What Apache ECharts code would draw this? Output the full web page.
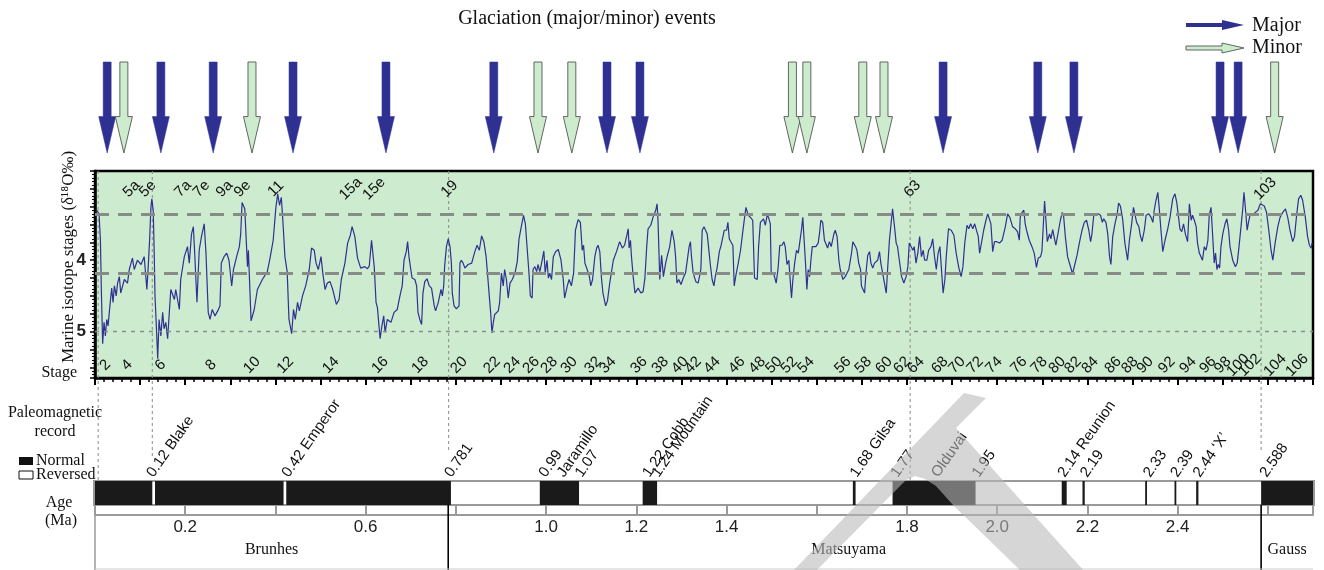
<!DOCTYPE html>
<html><head><meta charset="utf-8">
<script src="https://cdn.jsdelivr.net/npm/echarts/dist/echarts.min.js"></script>
<style>html,body{margin:0;padding:0;background:#fff}#c{width:1324px;height:570px}</style>
</head><body><div id="c"></div>
<script>
// ---------------- DATA ----------------
const isotope = [
[0.004,3.30],[0.009,3.35],[0.012,3.72],[0.013,4.04],[0.014,4.41],[0.017,5.17],[0.020,4.87],[0.023,5.06],[0.026,4.83],[0.029,4.92],[0.033,4.64],[0.037,4.39],[0.040,4.59],[0.043,4.36],[0.047,4.50],[0.050,4.32],[0.054,4.23],[0.057,4.46],[0.065,4.27],[0.072,4.32],[0.076,4.13],[0.083,3.97],[0.087,4.13],[0.094,4.00],[0.102,4.06],[0.109,3.95],[0.115,4.41],[0.118,4.09],[0.121,3.72],[0.124,3.26],[0.126,3.14],[0.129,3.30],[0.131,3.81],[0.133,4.50],[0.136,4.92],[0.139,5.38],[0.142,4.83],[0.146,5.06],[0.150,4.73],[0.153,4.96],[0.157,4.87],[0.161,5.10],[0.168,4.41],[0.176,4.55],[0.179,4.41],[0.187,4.69],[0.190,4.27],[0.198,3.95],[0.205,3.81],[0.209,4.04],[0.214,3.63],[0.218,3.53],[0.221,3.90],[0.226,4.59],[0.231,3.86],[0.236,3.67],[0.242,3.49],[0.246,3.90],[0.251,4.73],[0.255,4.83],[0.260,4.69],[0.266,4.78],[0.272,4.71],[0.277,4.64],[0.280,4.04],[0.286,3.95],[0.292,3.90],[0.297,4.00],[0.303,4.36],[0.307,4.13],[0.314,3.95],[0.320,3.81],[0.323,3.63],[0.326,3.19],[0.332,3.28],[0.336,3.26],[0.338,4.09],[0.340,3.86],[0.346,4.85],[0.353,4.69],[0.360,4.41],[0.371,4.27],[0.382,4.16],[0.388,3.97],[0.395,3.72],[0.401,3.26],[0.405,3.07],[0.409,3.23],[0.413,3.12],[0.416,3.40],[0.421,3.95],[0.426,4.16],[0.430,4.83],[0.436,5.03],[0.440,4.69],[0.444,4.83],[0.449,4.59],[0.453,4.71],[0.460,4.50],[0.467,4.36],[0.475,4.13],[0.480,3.83],[0.486,3.86],[0.490,4.04],[0.495,4.13],[0.501,3.95],[0.505,4.18],[0.510,4.41],[0.515,4.32],[0.521,4.30],[0.527,4.41],[0.535,4.62],[0.541,4.55],[0.546,4.27],[0.554,4.04],[0.560,3.76],[0.566,3.65],[0.570,3.53],[0.576,3.67],[0.582,3.97],[0.589,4.11],[0.598,4.09],[0.604,4.12],[0.608,4.08],[0.613,3.72],[0.617,3.70],[0.619,4.09],[0.623,4.59],[0.626,4.66],[0.632,5.10],[0.636,4.92],[0.640,4.78],[0.643,5.01],[0.648,4.83],[0.656,4.87],[0.663,4.73],[0.670,4.69],[0.676,4.50],
[0.681,4.36],[0.685,4.00],[0.690,3.88],[0.693,3.74],[0.696,3.95],[0.700,4.13],[0.703,4.25],[0.709,4.27],[0.713,4.36],[0.716,4.73],[0.720,4.83],[0.724,4.90],[0.727,4.46],[0.731,4.30],[0.736,4.26],[0.741,4.36],[0.746,4.39],[0.752,4.64],[0.755,4.71],[0.761,4.59],[0.767,4.41],[0.770,4.50],[0.773,4.36],[0.775,4.09],[0.779,3.81],[0.783,3.70],[0.787,3.81],[0.790,4.04],[0.792,4.46],[0.796,4.64],[0.801,4.68],[0.807,4.64],[0.809,4.04],[0.812,4.00],[0.816,4.04],[0.820,4.11],[0.827,4.06],[0.835,4.04],[0.842,3.88],[0.847,3.79],[0.852,3.86],[0.857,3.66],[0.862,3.74],[0.867,3.95],[0.870,4.18],[0.874,4.50],[0.877,4.73],[0.880,5.02],[0.883,4.87],[0.886,4.76],[0.894,4.71],[0.897,4.59],[0.901,4.18],[0.905,4.36],[0.908,4.13],[0.912,4.27],[0.916,4.53],[0.920,4.32],[0.925,4.27],[0.931,4.18],[0.936,4.02],[0.940,3.70],[0.945,3.53],[0.950,3.37],[0.954,3.49],[0.958,3.51],[0.962,4.18],[0.965,4.50],[0.969,4.53],[0.971,4.13],[0.975,4.09],[0.979,4.16],[0.982,4.06],[0.986,4.16],[0.990,4.04],[0.995,3.87],[0.998,4.18],[1.002,4.00],[1.005,4.25],[1.008,4.18],[1.012,4.27],[1.016,3.95],[1.021,3.88],[1.027,3.85],[1.033,4.00],[1.038,4.27],[1.041,4.53],[1.047,4.36],[1.051,4.27],[1.056,4.36],[1.061,4.18],[1.065,3.58],[1.071,3.43],[1.076,3.47],[1.080,3.86],[1.083,3.79],[1.086,4.04],[1.091,4.13],[1.096,4.23],[1.099,4.36],[1.103,4.27],[1.108,3.95],[1.112,3.83],[1.115,3.79],[1.119,3.88],[1.123,4.27],[1.126,4.46],[1.132,4.64],[1.136,4.57],[1.141,4.32],[1.149,4.00],[1.156,3.88],[1.163,3.74],[1.169,3.83],[1.174,3.79],[1.179,3.65],[1.182,3.56],[1.184,3.83],[1.187,3.72],[1.189,3.93],[1.193,4.23],[1.197,4.46],[1.200,4.44],[1.204,4.39],[1.210,4.46],[1.215,4.44],[1.219,4.25],[1.223,3.81],[1.226,3.56],[1.232,3.51],[1.237,3.40],[1.243,3.30],[1.246,3.21],[1.248,3.44],[1.252,4.27],[1.256,3.93],[1.260,4.23],[1.265,4.04],[1.269,3.93],[1.274,3.81],[1.279,3.58],[1.284,3.74],[1.287,3.95],[1.290,4.32],[1.294,4.27],[1.299,4.34],[1.304,4.25],[1.309,4.18],[1.313,4.00],[1.317,3.81],[1.320,3.74],[1.322,3.93],[1.326,4.18],[1.332,4.30],[1.337,4.32],[1.343,4.13],[1.346,3.58],[1.350,3.53],
[1.352,3.56],[1.357,3.63],[1.360,3.81],[1.364,4.06],[1.368,4.27],[1.372,4.36],[1.375,4.23],[1.379,4.11],[1.384,3.88],[1.388,3.79],[1.392,3.67],[1.395,3.58],[1.400,3.58],[1.403,3.47],[1.406,3.70],[1.411,3.76],[1.414,3.79],[1.417,4.36],[1.421,4.20],[1.426,4.04],[1.431,3.86],[1.436,3.60],[1.440,3.40],[1.443,3.26],[1.448,3.37],[1.453,3.40],[1.458,3.44],[1.462,4.25],[1.468,4.27],[1.471,3.81],[1.475,3.47],[1.479,3.49],[1.482,3.42],[1.486,3.51],[1.490,3.37],[1.493,3.40],[1.497,3.49],[1.499,4.18],[1.505,4.20],[1.510,4.32],[1.514,4.13],[1.518,3.79],[1.523,3.79],[1.527,3.74],[1.530,3.81],[1.534,4.06],[1.538,4.00],[1.542,4.36],[1.544,4.53],[1.547,4.27],[1.551,4.04],[1.555,3.86],[1.559,3.90],[1.562,3.76],[1.566,3.58],[1.569,3.40],[1.572,3.72],[1.575,4.04],[1.578,4.41],[1.581,4.13],[1.584,4.23],[1.587,4.00],[1.590,3.81],[1.593,3.79],[1.598,3.81],[1.603,3.76],[1.606,3.63],[1.609,3.44],[1.613,3.47],[1.617,3.72],[1.620,3.70],[1.624,3.83],[1.628,3.74],[1.632,3.81],[1.638,3.63],[1.641,3.58],[1.645,3.67],[1.649,4.00],[1.652,4.13],[1.658,4.27],[1.663,4.23],[1.671,4.13],[1.677,3.90],[1.680,3.74],[1.686,3.81],[1.689,3.86],[1.693,4.04],[1.697,4.13],[1.699,4.36],[1.703,4.34],[1.706,4.46],[1.709,4.18],[1.713,3.93],[1.717,3.88],[1.720,4.04],[1.724,4.11],[1.728,4.04],[1.731,4.06],[1.735,4.00],[1.739,3.88],[1.742,4.04],[1.746,4.18],[1.750,4.32],[1.754,4.46],[1.757,4.13],[1.761,3.72],[1.765,3.47],[1.768,3.28],[1.772,3.51],[1.776,3.76],[1.779,3.81],[1.783,4.00],[1.788,4.23],[1.793,4.32],[1.798,4.23],[1.802,4.09],[1.805,3.76],[1.809,3.74],[1.813,3.86],[1.816,3.81],[1.820,4.04],[1.824,3.90],[1.828,3.67],[1.832,3.95],[1.836,3.86],[1.839,4.00],[1.844,4.00],[1.848,3.86],[1.853,3.81],[1.857,3.70],[1.861,3.95],[1.865,4.13],[1.869,3.90],[1.873,3.81],[1.876,4.09],[1.880,4.46],[1.884,4.27],[1.887,3.95],[1.892,3.56],[1.898,3.58],[1.904,3.65],[1.909,3.90],[1.915,4.11],[1.920,4.23],[1.924,4.09],[1.928,3.76],[1.933,3.51],[1.937,3.56],[1.941,3.49],[1.946,3.56],[1.950,3.49],[1.954,3.47],[1.958,3.67],[1.961,3.90],[1.965,3.76],[1.970,3.58],[1.975,3.44],[1.979,3.35],[1.983,3.37],[1.986,3.49],[1.990,3.88],[1.994,3.74],[1.999,3.74],[2.005,3.76],[2.011,3.72],[2.018,3.53],[2.023,3.35],
[2.028,3.40],[2.034,3.53],[2.040,3.56],[2.045,3.60],[2.049,3.72],[2.051,3.40],[2.055,3.33],[2.059,3.30],[2.062,3.49],[2.065,3.58],[2.071,3.72],[2.077,3.81],[2.082,3.90],[2.087,4.10],[2.091,3.97],[2.096,3.95],[2.099,3.88],[2.102,3.53],[2.105,3.17],[2.108,3.44],[2.111,3.74],[2.116,3.63],[2.119,3.70],[2.123,3.57],[2.127,3.70],[2.130,3.79],[2.136,3.58],[2.140,3.44],[2.144,3.33],[2.147,3.37],[2.151,3.67],[2.156,3.95],[2.161,4.06],[2.167,4.19],[2.172,4.06],[2.177,3.93],[2.182,3.76],[2.188,3.58],[2.193,3.47],[2.198,3.44],[2.203,3.58],[2.207,3.74],[2.210,3.63],[2.214,3.37],[2.219,3.35],[2.224,3.35],[2.229,3.37],[2.233,3.47],[2.236,3.42],[2.241,3.47],[2.245,3.63],[2.249,3.95],[2.252,4.06],[2.256,3.67],[2.261,3.49],[2.266,3.35],[2.269,3.20],[2.273,3.24],[2.278,3.42],[2.283,3.76],[2.289,4.00],[2.293,3.72],[2.298,3.49],[2.302,3.26],[2.306,3.28],[2.309,3.47],[2.314,3.53],[2.317,3.65],[2.321,3.74],[2.326,3.58],[2.330,3.37],[2.336,3.35],[2.341,3.40],[2.345,3.47],[2.348,3.30],[2.352,3.16],[2.356,3.05],[2.359,3.26],[2.363,3.58],[2.367,3.88],[2.372,3.72],[2.378,3.56],[2.383,3.40],[2.389,3.14],[2.394,3.07],[2.398,3.19],[2.402,3.40],[2.405,3.56],[2.409,3.60],[2.413,3.49],[2.417,3.63],[2.422,3.74],[2.426,3.21],[2.430,3.44],[2.433,3.37],[2.437,3.44],[2.441,3.53],[2.444,3.76],[2.448,3.90],[2.452,3.88],[2.455,4.00],[2.459,3.81],[2.463,3.86],[2.467,3.72],[2.470,3.37],[2.474,3.26],[2.478,3.28],[2.481,4.04],[2.484,3.90],[2.487,4.13],[2.490,4.06],[2.493,4.11],[2.496,3.81],[2.500,3.63],[2.505,3.49],[2.509,3.42],[2.513,3.58],[2.516,3.81],[2.522,4.00],[2.528,4.09],[2.532,4.04],[2.536,3.81],[2.541,3.49],[2.544,3.30],[2.547,3.05],[2.550,3.26],[2.554,3.58],[2.557,3.47],[2.561,3.35],[2.567,3.37],[2.572,3.33],[2.578,3.30],[2.583,3.21],[2.586,3.19],[2.592,3.24],[2.597,3.33],[2.602,3.58],[2.607,3.86],[2.611,4.00],[2.616,3.76],[2.622,3.53],[2.627,3.40],[2.633,3.33],[2.639,3.28],[2.644,3.40],[2.649,3.58],[2.655,3.74],[2.659,3.67],[2.664,3.35],[2.668,3.14],[2.673,3.09],[2.677,3.16],[2.683,3.40],[2.688,3.67],[2.692,3.79],[2.696,3.83],[2.698,3.76]
];
const thickRefLevels = [3.35, 4.18];
const thinRefLevels = [5.0];

const glacAges = [0.027,0.064,0.146,0.262,0.348,0.439,0.645,0.884,0.982,1.057,1.135,1.208,1.546,1.578,1.702,1.749,1.880,2.090,2.170,2.494,2.534,2.615];
const glacKind = ['Major','Minor','Major','Major','Minor','Major','Major','Major','Minor','Minor','Major','Major','Minor','Minor','Minor','Minor','Major','Major','Major','Major','Major','Minor'];

const stageNums = ['2','4','6','8','10','12','14','16','18','20','22','24','26','28','30','32','34','36','38','40','42','44','46','48','50','52','54','56','58','60','62','64','68','70','72','74','76','78','80','82','84','86','88','90','92','94','96','98','100','102','104','106'];
const stageAges = [0.023,0.071,0.145,0.257,0.348,0.422,0.523,0.632,0.721,0.807,0.880,0.925,0.967,1.007,1.051,1.104,1.137,1.206,1.253,1.297,1.326,1.368,1.423,1.468,1.505,1.539,1.576,1.658,1.703,1.749,1.789,1.820,1.873,1.911,1.951,1.993,2.048,2.093,2.133,2.168,2.206,2.257,2.294,2.328,2.376,2.423,2.467,2.500,2.534,2.560,2.616,2.665];

const peakLabels = ['5a','5e','7a','7e','9a','9e','11','15a','15e','19','63','103'];
const peakAges = [0.081,0.117,0.195,0.236,0.287,0.327,0.401,0.567,0.619,0.786,1.812,2.594];

const eventLineAges = [0.007,0.127,0.784,1.807,2.585];

const normalPolarity = [[0,0.127],[0.133,0.418],[0.424,0.789],[0.986,1.073],[1.214,1.246],[1.680,1.686],[1.768,1.952],[2.143,2.154],[2.189,2.194],[2.328,2.332],[2.393,2.397],[2.441,2.446],[2.585,2.70]];

const paleoLabels = ['0.12 Blake','0.42 Emperor','0.781','0.99','Jaramillo','1.07','1.22 Cobb','1.24 Mountain','1.68 Gilsa','1.77','Olduvai','1.95','2.14 Reunion','2.19','2.33','2.39','2.44 \u2018X\u2019','2.588'];
const paleoAges = [0.12,0.42,0.781,0.99,1.03,1.07,1.22,1.24,1.68,1.77,1.86,1.95,2.14,2.19,2.33,2.39,2.44,2.588];

const ageTickLabels = ['0.2','0.6','1.0','1.2','1.4','1.8','2.0','2.2','2.4'];

const chronNames = ['Brunhes','Matsuyama','Gauss'];
const chronStart = [0, 0.783, 2.585];
const chronEnd = [0.783, 2.585, 2.70];

// ---------------- CHART ----------------
const SERIF = '"Liberation Serif","Times New Roman",serif';
const SANS = '"Liberation Sans",Arial,Helvetica,sans-serif';
const NAVY = '#2e3192';
const LIGHTG = '#cdebcf';
const L = 95, R = 11, AMIN = 0, AMAX = 2.70;

const chart = echarts.init(document.getElementById('c'), null, {renderer:'canvas'});

function xa(gi, extra) {
  return Object.assign({type:'value', gridIndex:gi, min:AMIN, max:AMAX, show:false}, extra||{});
}
function ya(gi, extra) {
  return Object.assign({type:'value', gridIndex:gi, min:0, max:1, show:false}, extra||{});
}

const grids = [
  {left:L, right:R, top:62, height:91},
  {left:L, right:R, top:171, height:207, show:true, backgroundColor:LIGHTG, borderColor:'#000', borderWidth:2.5},
  {left:L, right:R, top:171, height:310},
  {left:L, right:R, top:481, height:24},
  {left:L, right:R, top:505, height:10},
  {left:L, right:R, top:515, height:55}
];

const xAxes = [
  xa(0),
  xa(1, {show:true, position:'bottom', interval:0.1,
    axisLine:{show:true, lineStyle:{color:'#000', width:2.5}},
    axisTick:{show:true, inside:false, length:7, lineStyle:{color:'#000', width:2}},
    minorTick:{show:true, splitNumber:5, length:4, lineStyle:{color:'#000', width:1.5}},
    axisLabel:{show:false}, splitLine:{show:false}}),
  xa(2),
  xa(3),
  xa(4, {show:true, position:'bottom', interval:0.2,
    axisLine:{show:true, lineStyle:{color:'#9a9a9a', width:2}},
    axisTick:{show:true, inside:true, length:10, lineStyle:{color:'#9a9a9a', width:2}},
    axisLabel:{show:true, margin:4, fontFamily:SANS, fontSize:17, color:'#222',
      formatter: v => { const s = (Math.round(v*10)/10).toFixed(1); return ageTickLabels.indexOf(s) >= 0 ? s : ''; }},
    splitLine:{show:false}}),
  xa(5)
];

const yAxes = [
  ya(0),
  {type:'value', gridIndex:1, inverse:true, min:2.75, max:5.65, interval:0.25,
    axisLine:{show:true, lineStyle:{color:'#000', width:2.5}},
    axisTick:{show:true, inside:false, length:5, lineStyle:{color:'#000', width:1.5}},
    minorTick:{show:true, splitNumber:5, length:3, lineStyle:{color:'#000', width:1}},
    splitLine:{show:false},
    axisLabel:{margin:9, fontFamily:SANS, fontSize:17, fontWeight:'bold', color:'#222',
      formatter: v => (Math.abs(v-4)<1e-6 ? '4' : (Math.abs(v-5)<1e-6 ? '5' : ''))}},
  {type:'value', gridIndex:2, min:0, max:310, inverse:true, show:false},
  ya(3), ya(4), ya(5)
];

const series = [];

series.push({
  type:'custom', xAxisIndex:0, yAxisIndex:0, clip:false, z:5,
  data: glacAges.map((a,i)=>[a, glacKind[i]==='Major'?1:0]),
  renderItem: (p, api) => {
    const x = api.coord([api.value(0), 1])[0];
    const top = api.coord([api.value(0), 1])[1];
    const hb = api.coord([api.value(0), 0.4])[1];
    const tip = api.coord([api.value(0), 0])[1];
    const major = api.value(1) === 1;
    return {type:'polygon', shape:{points:[[x-4,top],[x+4,top],[x+4,hb],[x+8.5,hb],[x,tip],[x-8.5,hb],[x-4,hb]]},
      style:{fill: major?NAVY:'#cdeccd', stroke: major?NAVY:'#555', lineWidth: major?0.5:0.9}};
  }
});

series.push({
  type:'line', xAxisIndex:1, yAxisIndex:1, data:[], z:2, silent:true,
  markLine:{symbol:'none', silent:true, label:{show:false}, animation:false,
    data: thickRefLevels.map(v => ({yAxis:v, lineStyle:{type:[14,9], width:3, color:'#878c87'}}))
      .concat(thinRefLevels.map(v => ({yAxis:v, lineStyle:{type:[4,5], width:1.3, color:'#8c8c8c'}})))}
});

const vlineEnds = [309, 286, 280, 309, 281];
series.push({
  type:'custom', xAxisIndex:2, yAxisIndex:2, clip:false, z:3,
  data: eventLineAges.map((a,i)=>[a, vlineEnds[i]]),
  renderItem: (p, api) => {
    const x = api.coord([api.value(0), 0])[0];
    const y0 = api.coord([api.value(0), 0])[1];
    const y1 = api.coord([api.value(0), api.value(1)])[1];
    return {type:'line', shape:{x1:x, y1:y0, x2:x, y2:y1}, style:{stroke:'#8a8a8a', lineWidth:1, lineDash:[3,3]}};
  }
});

series.push({
  type:'line', xAxisIndex:1, yAxisIndex:1, data:isotope, showSymbol:false, z:4,
  lineStyle:{color:NAVY, width:1.2}, animation:false
});

function textSeries(ages, labels, yv, rot, size) {
  return {
    type:'custom', xAxisIndex:1, yAxisIndex:1, clip:false, z:6,
    data: ages.map((a,i)=>[a, yv, i]),
    renderItem: (p, api) => {
      const c = api.coord([api.value(0), api.value(1)]);
      return {type:'text', x:c[0], y:c[1], rotation: rot*Math.PI/180,
        style:{text: labels[api.value(2)], fill:'#111', font: size+'px '+SANS, align:'center', verticalAlign:'middle'}};
    }
  };
}
series.push(textSeries(peakAges, peakLabels, 3.0, 45, 15));
series.push(textSeries(stageAges, stageNums, 5.47, 45, 15));

series.push({
  type:'custom', xAxisIndex:3, yAxisIndex:3, clip:false, z:2,
  data:[[AMIN, AMAX]],
  renderItem: (p, api) => {
    const a = api.coord([api.value(0), 1]), b = api.coord([api.value(1), 0]);
    return {type:'rect', shape:{x:a[0]-1, y:a[1], width:b[0]-a[0]+2, height:b[1]-a[1]}, style:{fill:'#fff', stroke:'#999', lineWidth:2}};
  }
});
series.push({
  type:'custom', xAxisIndex:3, yAxisIndex:3, clip:false, z:3,
  data: normalPolarity,
  renderItem: (p, api) => {
    const a = api.coord([api.value(0), 1]), b = api.coord([api.value(1), 0]);
    return {type:'rect', shape:{x:a[0], y:a[1], width:Math.max(b[0]-a[0],1.5), height:b[1]-a[1]}, style:{fill:'#1a1a1a'}};
  }
});
series.push({
  type:'custom', xAxisIndex:3, yAxisIndex:3, clip:false, z:4,
  data: paleoAges.map((a,i)=>[a,i]),
  renderItem: (p, api) => {
    const c = api.coord([api.value(0), 1]);
    return {type:'text', x:c[0]+7, y:c[1]-1, rotation: 55*Math.PI/180,
      style:{text: paleoLabels[api.value(1)], fill:'#111', font:'15px '+SANS, align:'left', verticalAlign:'bottom'}};
  }
});

series.push({
  type:'custom', xAxisIndex:5, yAxisIndex:5, clip:false, z:3,
  data: chronNames.map((n,i)=>[chronStart[i], chronEnd[i], i]),
  renderItem: (p, api) => {
    const i = api.value(2);
    const a = api.coord([api.value(0), 1]), b = api.coord([api.value(1), 0]);
    const kids = [];
    kids.push({type:'text', x:(a[0]+b[0])/2 - (i===1?6:0), y:a[1]+35,
      style:{text: chronNames[i], fill:'#111', font:'16px '+SERIF, align:'center', verticalAlign:'middle'}});
    if (i === 0) kids.push({type:'line', shape:{x1:a[0], y1:a[1], x2:a[0], y2:b[1]}, style:{stroke:'#999', lineWidth:1.5}});
    if (i < chronNames.length-1) kids.push({type:'line', shape:{x1:b[0], y1:a[1]-10, x2:b[0], y2:b[1]}, style:{stroke:'#000', lineWidth:1.6}});
    kids.push({type:'line', shape:{x1:a[0], y1:b[1]-1, x2:b[0], y2:b[1]-1}, style:{stroke:'#ccc', lineWidth:1}});
    return {type:'group', children:kids};
  }
});

// ---------------- GRAPHIC ----------------
const WM = 'rgba(185,185,185,0.58)';
const graphic = [
  {type:'text', x:587, y:19, style:{text:'Glaciation (major/minor) events', font:'20px '+SERIF, fill:'#111', align:'center', verticalAlign:'middle'}},
  {type:'polygon', shape:{points:[[1186,23],[1222,23],[1222,20],[1244,25],[1222,30],[1222,27],[1186,27]]}, style:{fill:NAVY}},
  {type:'text', x:1252, y:26, style:{text:'Major', font:'20px '+SERIF, fill:'#111', align:'left', verticalAlign:'middle'}},
  {type:'polygon', shape:{points:[[1186,46],[1222,46],[1222,43],[1244,48],[1222,53],[1222,50],[1186,50]]}, style:{fill:'#cdeccd', stroke:'#555', lineWidth:0.9}},
  {type:'text', x:1252, y:48, style:{text:'Minor', font:'20px '+SERIF, fill:'#111', align:'left', verticalAlign:'middle'}},
  {type:'text', x:69, y:257, rotation:Math.PI/2, style:{text:'Marine isotope stages (\u03b4\u00b9\u2078O\u2030)', font:'17px '+SERIF, fill:'#111', align:'center', verticalAlign:'middle'}},
  {type:'text', x:77, y:373, style:{text:'Stage', font:'16px '+SERIF, fill:'#111', align:'right', verticalAlign:'middle'}},
  {type:'text', x:55, y:413, style:{text:'Paleomagnetic', font:'16px '+SERIF, fill:'#111', align:'center', verticalAlign:'middle'}},
  {type:'text', x:55, y:432, style:{text:'record', font:'16px '+SERIF, fill:'#111', align:'center', verticalAlign:'middle'}},
  {type:'rect', shape:{x:19, y:457, width:14, height:8}, style:{fill:'#111'}},
  {type:'text', x:36, y:461, style:{text:'Normal', font:'16px '+SERIF, fill:'#111', align:'left', verticalAlign:'middle'}},
  {type:'rect', shape:{x:19, y:471, width:14, height:8}, style:{fill:'#fff', stroke:'#111', lineWidth:1}},
  {type:'text', x:36, y:475, style:{text:'Reversed', font:'16px '+SERIF, fill:'#111', align:'left', verticalAlign:'middle'}},
  {type:'text', x:59, y:503, style:{text:'Age', font:'16px '+SERIF, fill:'#111', align:'center', verticalAlign:'middle'}},
  {type:'text', x:61, y:521, style:{text:'(Ma)', font:'16px '+SERIF, fill:'#111', align:'center', verticalAlign:'middle'}},
  // watermark (single lambda-like shape)
  {type:'polygon', z:100, silent:true, shape:{points:[[964,393],[986,398],[956,428],[1085,572],[1022,572],[953,505],[936,486],[925,479],[915,476],[906,480],[815,572],[792,572]]}, style:{fill:WM}}
];

chart.setOption({
  animation:false,
  backgroundColor:'#fff',
  grid:grids, xAxis:xAxes, yAxis:yAxes, series:series, graphic:graphic
});
</script>
</body></html>
